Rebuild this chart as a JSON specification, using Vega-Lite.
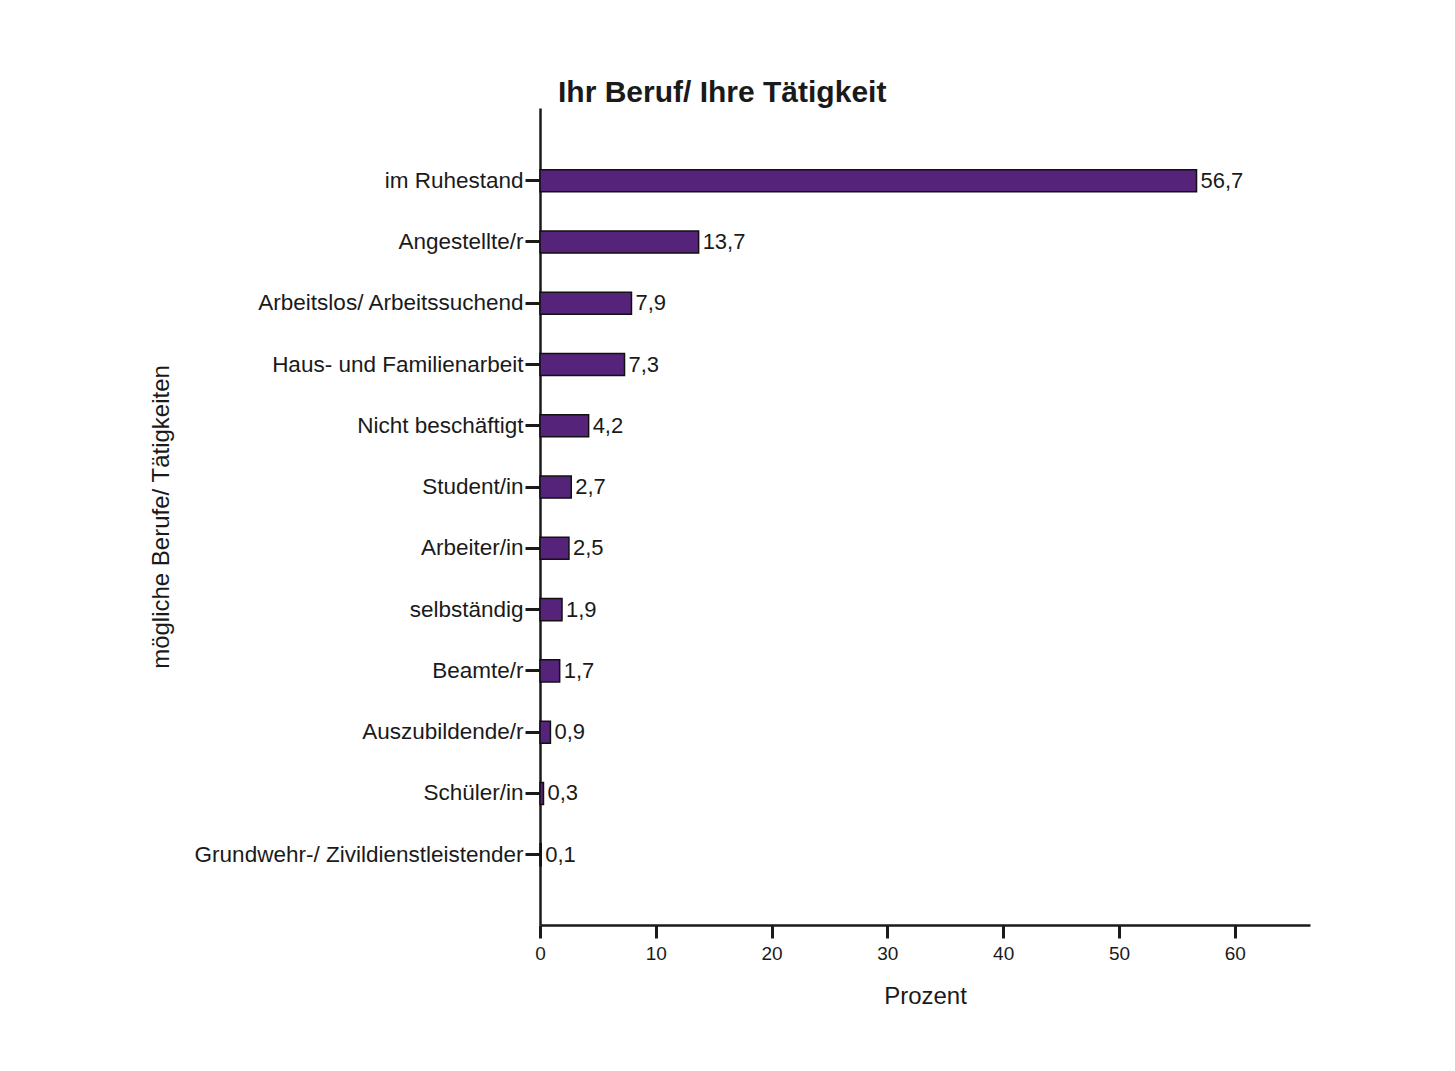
{
  "$schema": "https://vega.github.io/schema/vega-lite/v6.json",
  "autosize": "none",
  "width": 770,
  "height": 817,
  "padding": {"left": 540, "top": 108, "right": 145, "bottom": 146},
  "background": "white",
  "config": {
    "font": "Liberation Sans",
    "view": {"stroke": null},
    "locale": {"number": {"decimal": ",", "thousands": ".", "grouping": [3], "currency": ["", " €"]}}
  },
  "title": {
    "text": "Ihr Beruf/ Ihre Tätigkeit",
    "anchor": "start",
    "frame": "group",
    "dx": 18,
    "dy": 30,
    "offset": 6,
    "baseline": "alphabetic",
    "fontSize": 30,
    "fontWeight": "bold",
    "color": "#1a1a1a",
    "font": "Liberation Sans"
  },
  "data": {
    "values": [
      {"beruf": "im Ruhestand", "prozent": 56.7},
      {"beruf": "Angestellte/r", "prozent": 13.7},
      {"beruf": "Arbeitslos/ Arbeitssuchend", "prozent": 7.9},
      {"beruf": "Haus- und Familienarbeit", "prozent": 7.3},
      {"beruf": "Nicht beschäftigt", "prozent": 4.2},
      {"beruf": "Student/in", "prozent": 2.7},
      {"beruf": "Arbeiter/in", "prozent": 2.5},
      {"beruf": "selbständig", "prozent": 1.9},
      {"beruf": "Beamte/r", "prozent": 1.7},
      {"beruf": "Auszubildende/r", "prozent": 0.9},
      {"beruf": "Schüler/in", "prozent": 0.3},
      {"beruf": "Grundwehr-/ Zivildienstleistender", "prozent": 0.1}
    ]
  },
  "encoding": {
    "y": {
      "field": "beruf",
      "type": "nominal",
      "sort": null,
      "scale": {"paddingInner": 0.64, "paddingOuter": 0.987, "align": 0.51},
      "axis": {
        "title": "mögliche Berufe/ Tätigkeiten",
        "titleFontSize": 24,
        "titleFontWeight": "normal",
        "titleColor": "#1a1a1a",
        "titleX": -372,
        "titleY": 408.5,
        "titleAngle": -90,
        "titleBaseline": "alphabetic",
        "labelFontSize": 22.5,
        "labelColor": "#1a1a1a",
        "labelPadding": 2,
        "tickSize": 15,
        "tickWidth": 3,
        "tickColor": "#1a1a1a",
        "domainColor": "#1a1a1a",
        "domainWidth": 2.5,
        "labelLimit": 600
      }
    },
    "x": {
      "field": "prozent",
      "type": "quantitative",
      "scale": {"domain": [0, 66.5], "nice": false, "zero": true},
      "axis": {
        "title": "Prozent",
        "values": [0, 10, 20, 30, 40, 50, 60],
        "format": "d",
        "labelFlush": false,
        "titleFontSize": 24,
        "titleFontWeight": "normal",
        "titleColor": "#1a1a1a",
        "titleY": 78,
        "titleBaseline": "alphabetic",
        "labelFontSize": 19,
        "labelColor": "#1a1a1a",
        "labelPadding": 6,
        "tickSize": 13,
        "tickWidth": 3,
        "tickColor": "#1a1a1a",
        "domainColor": "#1a1a1a",
        "domainWidth": 2.5,
        "grid": false
      }
    }
  },
  "layer": [
    {
      "mark": {"type": "bar", "fill": "#55237a", "stroke": "#111111", "strokeWidth": 1.5}
    },
    {
      "mark": {"type": "text", "align": "left", "baseline": "middle", "dx": 4, "fontSize": 22, "color": "#1a1a1a", "font": "Liberation Sans"},
      "encoding": {
        "text": {"field": "prozent", "type": "quantitative", "format": ".1f"}
      }
    }
  ]
}
